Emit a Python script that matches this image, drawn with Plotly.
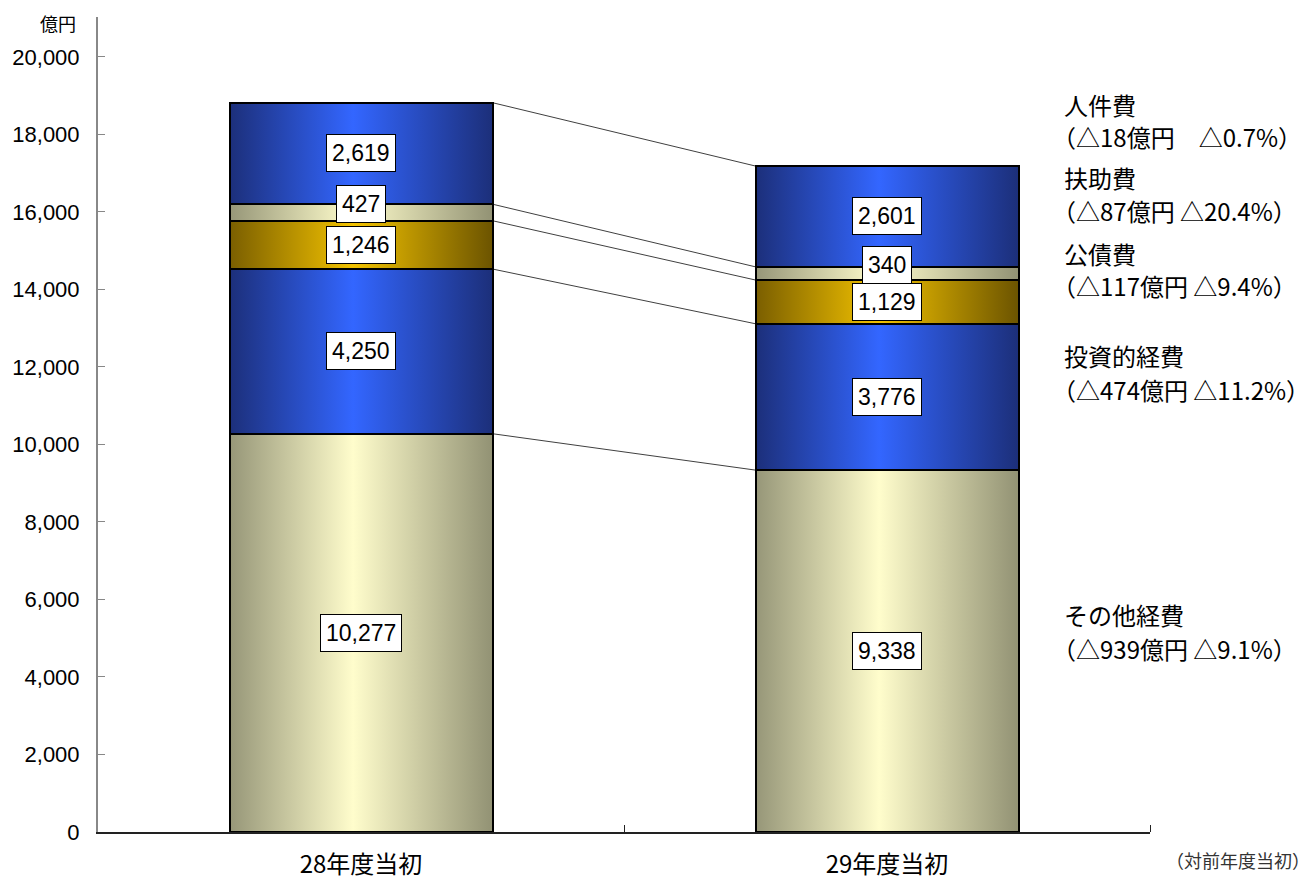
import plotly.graph_objects as go
import numpy as np

# ---- data ----
years = ["28年度当初", "29年度当初"]
categories = ["その他経費", "投資的経費", "公債費", "扶助費", "人件費"]  # bottom -> top
values_28 = [10277, 4250, 1246, 427, 2619]
values_29 = [9338, 3776, 1129, 340, 2601]
change_labels = [
    "（△939億円 △9.1%）",
    "（△474億円 △11.2%）",
    "（△117億円 △9.4%）",
    "（△87億円 △20.4%）",
    "（△18億円　△0.7%）",
]
y_ticks = list(range(0, 20001, 2000))

# ---- styles ----
grad_blue = [[0, "#1c2f7a"], [0.47, "#3366ff"], [1, "#1c2f7a"]]
grad_gold = [[0, "#7a5e00"], [0.47, "#f2c200"], [1, "#6c5400"]]
grad_olive = [[0, "#969678"], [0.47, "#fffdcc"], [1, "#929274"]]
cat_scales = [grad_olive, grad_blue, grad_gold, grad_olive, grad_blue]
bar_width = 0.5
jp_font = "Noto Sans CJK JP"
num_font = "Liberation Sans, Arial, sans-serif"

series = [values_28, values_29]
x_pos = np.arange(len(years))
tops = [np.cumsum(v) for v in series]
bases = [t - np.array(v) for t, v in zip(tops, series)]

fig = go.Figure()

# gradient fills (base axes, drawn beneath the bar outlines)
for bi, xc in enumerate(x_pos):
    for ci, cat in enumerate(categories):
        x0, x1 = xc - bar_width / 2, xc + bar_width / 2
        b, t = bases[bi][ci], tops[bi][ci]
        fig.add_trace(go.Scatter(
            x=[x0, x1, x1, x0, x0], y=[b, b, t, t, b],
            mode="lines", fill="toself", line=dict(width=0),
            fillgradient=dict(type="horizontal", colorscale=cat_scales[ci]),
            hoverinfo="skip", showlegend=False,
        ))

# connecting lines between segment tops
lx, ly = [], []
for ci in range(len(categories)):
    lx += [x_pos[0] + bar_width / 2, x_pos[1] - bar_width / 2, None]
    ly += [tops[0][ci], tops[1][ci], None]
fig.add_trace(go.Scatter(x=lx, y=ly, mode="lines",
                         line=dict(color="#404040", width=1),
                         hoverinfo="skip", showlegend=False))

# stacked bars (outlines) on overlay axes so they sit on top
for ci, cat in enumerate(categories):
    fig.add_trace(go.Bar(
        x=x_pos, y=[values_28[ci], values_29[ci]], name=cat,
        width=bar_width, xaxis="x2", yaxis="y2",
        marker=dict(color="rgba(0,0,0,0)", line=dict(color="black", width=2)),
        showlegend=False,
    ))

# value labels
for bi, xc in enumerate(x_pos):
    for ci in range(len(categories)):
        v = series[bi][ci]
        center = (bases[bi][ci] + tops[bi][ci]) / 2
        fig.add_annotation(
            x=xc, y=center, xref="x", yref="y", text=f"{v:,}",
            showarrow=False, font=dict(family=num_font, size=23, color="black"),
            bgcolor="white", bordercolor="black", borderwidth=1, borderpad=5,
            yshift=8 if v < 600 else 0,
        )

# page pixel layout (the page body adds an 8px margin around the figure)
OFF = 8
W, H = 1315, 880
plot_left, plot_right, plot_top, plot_bottom = 98 - OFF, 1150 - OFF, 17 - OFF, 832 - OFF

def px_to_paper(px, py):
    px, py = px - OFF, py - OFF
    return ((px - plot_left) / (plot_right - plot_left),
            (plot_bottom - py) / (plot_bottom - plot_top))

label_rows = [(614, 648), (355, 389), (253, 285), (178, 211), (104, 136)]
for ci, cat in enumerate(categories):
    r1, r2 = label_rows[ci]
    nx_, py1 = px_to_paper(1062, r1)
    cx_, py2 = px_to_paper(1050, r2)
    fig.add_annotation(x=nx_, y=py1, xref="paper", yref="paper", text=cat,
                       xanchor="left", yanchor="middle", showarrow=False,
                       font=dict(family=jp_font, size=24, color="black"))
    fig.add_annotation(x=cx_, y=py2, xref="paper", yref="paper", text=change_labels[ci],
                       xanchor="left", yanchor="middle", showarrow=False,
                       font=dict(family=jp_font, size=24, color="black"))

# unit label
ux, uy = px_to_paper(78, 8)
fig.add_annotation(x=ux, y=uy, xref="paper", yref="paper", text="億円",
                   xanchor="right", yanchor="top", showarrow=False,
                   font=dict(family=jp_font, size=18, color="black"))
# note
nx, ny = px_to_paper(1312, 860)
fig.add_annotation(x=nx, y=ny, xref="paper", yref="paper", text="（対前年度当初）",
                   xanchor="right", yanchor="middle", showarrow=False,
                   font=dict(family=jp_font, size=18, color="#333333"))

xrange = [-0.5, len(years) - 0.5]
yrange = [0, 21030]
fig.update_layout(
    width=W, height=H,
    margin=dict(l=plot_left, r=W - plot_right, t=plot_top, b=H - plot_bottom),
    paper_bgcolor="white", plot_bgcolor="white",
    barmode="stack", showlegend=False,
    xaxis=dict(range=xrange, tickvals=list(x_pos), ticktext=years,
               ticks="", showgrid=False, zeroline=False, automargin=False,
               showline=True, linecolor="#222222", linewidth=1.5,
               tickfont=dict(family=jp_font, size=24, color="black"),
               ticklabelstandoff=10,
               minor=dict(tickvals=[0.5, 1.5], ticks="inside", ticklen=7,
                          tickcolor="#222222", tickwidth=1)),
    yaxis=dict(range=yrange, tickvals=y_ticks, tickformat=",",
               ticks="inside", ticklen=7, tickcolor="#888888", tickwidth=1,
               showgrid=False, zeroline=False, automargin=False,
               showline=True, linecolor="#888888", linewidth=2,
               tickfont=dict(family=num_font, size=22, color="black"),
               ticklabelstandoff=12),
    xaxis2=dict(range=xrange, overlaying="x", visible=False),
    yaxis2=dict(range=yrange, overlaying="y", visible=False),
)

fig.write_html("out.html")
